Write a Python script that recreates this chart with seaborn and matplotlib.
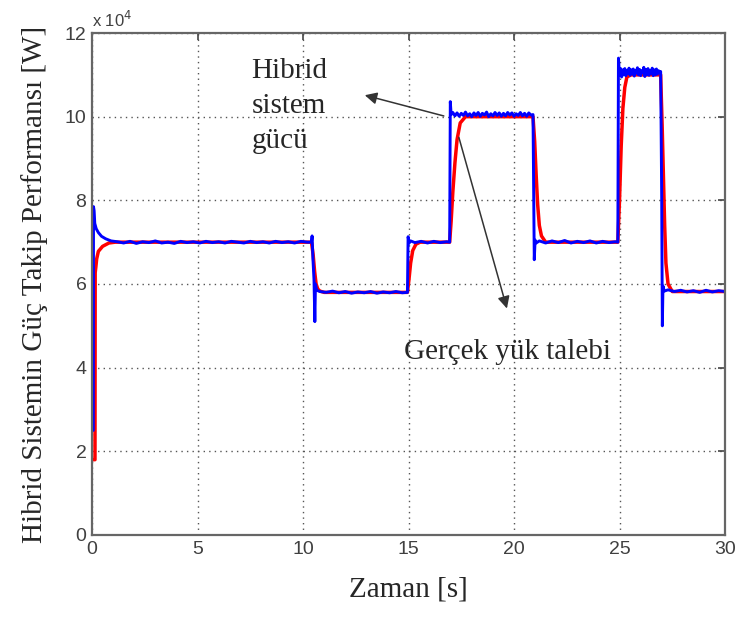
import matplotlib
matplotlib.use("Agg")
import matplotlib.pyplot as plt
import pandas as pd
import seaborn as sns

# Load demand (red)
t_load = [0.00, 0.14, 0.15, 0.18, 0.22, 0.30, 0.50, 0.80, 1.10,
          10.40, 10.48, 10.55, 10.62, 10.70, 10.80, 11.00,
          14.95, 15.02, 15.10, 15.20, 15.35, 15.55,
          16.95, 17.02, 17.10, 17.20, 17.30, 17.45, 17.70,
          20.90, 20.98, 21.05, 21.12, 21.20, 21.30, 21.50,
          24.92, 25.00, 25.08, 25.16, 25.25, 25.35, 25.55,
          26.95, 27.02, 27.08, 27.14, 27.20, 27.30, 27.50, 30.00]
p_load = [18000, 18000, 62700, 64000, 66000, 67800, 69000, 69800, 70000,
          70000, 67000, 63000, 60000, 58800, 58300, 58000,
          58000, 61000, 65000, 68000, 69500, 70000,
          70000, 75000, 82000, 89000, 94500, 98500, 100000,
          100000, 94000, 86000, 79000, 74000, 71500, 70000,
          70000, 80000, 93000, 102000, 107000, 109500, 110000,
          110000, 98000, 86000, 74000, 65000, 60000, 58200, 58200]

# Hybrid system power (blue)
t_hyb = [0.06, 0.07, 0.10, 0.13, 0.20, 0.30, 0.45, 0.65, 0.90, 1.2, 1.5, 1.8,
         2.1, 2.4, 2.7, 3.0, 3.3, 3.6, 3.9, 4.2, 4.5, 4.8, 5.1, 5.4, 5.7, 6.0,
         6.3, 6.6, 6.9, 7.2, 7.5, 7.8, 8.1, 8.4, 8.7, 9.0, 9.3, 9.6, 9.9, 10.2,
         10.40, 10.43, 10.47, 10.52, 10.56, 10.59, 10.65, 10.8, 11.1, 11.4,
         11.7, 12.0, 12.3, 12.6, 12.9, 13.2, 13.5, 13.8, 14.1, 14.4, 14.7,
         14.95, 14.98, 15.03, 15.1, 15.3, 15.6, 15.9, 16.2, 16.5, 16.8, 16.95,
         16.98, 17.02, 17.1, 17.2, 17.3, 17.4, 17.5, 17.6, 17.7, 17.8, 17.9,
         18.0, 18.1, 18.2, 18.3, 18.4, 18.5, 18.6, 18.7, 18.8, 18.9, 19.0,
         19.1, 19.2, 19.3, 19.4, 19.5, 19.6, 19.7, 19.8, 19.9, 20.0, 20.1,
         20.2, 20.3, 20.4, 20.5, 20.6, 20.7, 20.8, 20.9,
         20.96, 21.0, 21.05, 21.2, 21.5, 21.8, 22.1, 22.4, 22.7, 23.0, 23.3,
         23.6, 23.9, 24.2, 24.5, 24.8, 24.92,
         24.95, 25.0, 25.05, 25.1, 25.15, 25.2, 25.25, 25.3, 25.35, 25.4,
         25.45, 25.5, 25.55, 25.6, 25.65, 25.7, 25.75, 25.8, 25.85, 25.9,
         25.95, 26.0, 26.05, 26.1, 26.15, 26.2, 26.25, 26.3, 26.35, 26.4,
         26.45, 26.5, 26.55, 26.6, 26.65, 26.7, 26.75, 26.8, 26.85, 26.9,
         26.95, 27.0, 27.03, 27.06, 27.12, 27.3, 27.6, 27.9, 28.2, 28.5,
         28.8, 29.1, 29.4, 29.7, 30.0]
p_hyb = [25000, 78500, 77500, 74500, 73200, 72300, 71400, 70800, 70300, 70100, 69800, 70200,
         69700, 70100, 69900, 70300, 69800, 70000, 69700, 70200, 69900, 70100, 69800, 70200, 69900, 70100,
         69800, 70200, 70000, 69800, 70200, 69900, 70100, 69800, 70200, 69900, 70100, 69800, 70200, 70000,
         70000, 71500, 66000, 61000, 51000, 60000, 58500, 58200, 58000, 58300,
         57900, 58200, 57800, 58100, 57900, 58200, 57800, 58100, 57900, 58200, 57900,
         58000, 71300, 69800, 70300, 69900, 70200, 69800, 70200, 69900, 70100, 70000,
         103600, 100500, 101000, 100200, 100900, 100100, 100800, 100300, 101100, 100200, 100700,
         100000, 100900, 100300, 101000, 100100, 100800, 100400, 101100, 100000, 100700, 100200,
         101000, 100300, 100900, 100100, 100800, 100200, 101000, 100400, 100900, 100100, 100700,
         100300, 101000, 100200, 100800, 100100, 100900, 100400, 100500,
         65800, 70500, 69800, 70300, 69800, 70300, 69900, 70400, 69800, 70200, 69900,
         70300, 69800, 70200, 69900, 70100, 70000,
         114000, 110000, 111500, 109500, 111200, 110000, 111500, 109800, 111000, 110300,
         111600, 109900, 111200, 110200, 111400, 109700, 111100, 110400, 111700, 110000,
         111300, 109800, 111000, 110500, 111800, 109600, 111300, 110100, 111500, 109900,
         111000, 110300, 111600, 109800, 111200, 110000, 111400, 110200, 111000, 110600,
         110800, 80000, 50000, 59500, 58300, 58600, 58200, 58500, 58100, 58400,
         58000, 58500, 58100, 58400, 58200]

x_ticks = [0, 5, 10, 15, 20, 25, 30]
y_ticks = [0, 20000, 40000, 60000, 80000, 100000, 120000]
y_tick_labels = ["0", "2", "4", "6", "8", "10", "12"]

df_load = pd.DataFrame({"t": t_load, "p": p_load})
df_hyb = pd.DataFrame({"t": t_hyb, "p": p_hyb})

sns.set_style("white")
serif = ["Liberation Serif", "DejaVu Serif"]

fig = plt.figure(figsize=(7.38, 6.23), dpi=100)
ax = fig.add_axes([0.1247, 0.1413, 0.8577, 0.8057])

sns.lineplot(data=df_load, x="t", y="p", color="#ff0000", linewidth=2.5,
             estimator=None, sort=False, ax=ax, legend=False)
sns.lineplot(data=df_hyb, x="t", y="p", color="#0000ff", linewidth=2.1,
             estimator=None, sort=False, ax=ax, legend=False)

ax.set_xlim(0, 30)
ax.set_ylim(0, 120000)
ax.set_xticks(x_ticks)
ax.set_xticklabels([str(v) for v in x_ticks])
ax.set_yticks(y_ticks)
ax.set_yticklabels(y_tick_labels)
ax.tick_params(direction="in", length=5, width=1.2, color="#444444",
               labelsize=14, labelcolor="#404040", top=True, right=True, pad=4)
for lab in ax.get_xticklabels() + ax.get_yticklabels():
    lab.set_family(["Liberation Sans", "DejaVu Sans"])

ax.grid(True, linestyle=(0, (1, 3)), color="#555555", linewidth=1.0)
for sp in ax.spines.values():
    sp.set_color("#666666")
    sp.set_linewidth(1.6)

ax.set_xlabel("Zaman [s]", family=serif, fontsize=21, labelpad=14)
ax.set_ylabel("Hibrid Sistemin Güç Takip Performansı [W]", family=serif,
              fontsize=21, labelpad=12)

ax.text(0.0, 1.012, "x 10$^4$", transform=ax.transAxes, fontsize=12,
        color="#404040", family=["Liberation Sans", "DejaVu Sans"])

ax.text(7.55, 114000, "Hibrid\nsistem\ngücü", family=serif, fontsize=21,
        va="top", ha="left", linespacing=1.45)
ax.text(14.8, 43800, "Gerçek yük talebi", family=serif, fontsize=21,
        va="center", ha="left")

arrow = dict(arrowstyle="-|>", color="#333333", lw=1.1, mutation_scale=18)
ax.annotate("", xy=(12.8, 105300), xytext=(16.8, 100000), arrowprops=arrow)
ax.annotate("", xy=(19.7, 53500), xytext=(17.35, 95700), arrowprops=arrow)

fig.savefig("out.png", dpi=100)
